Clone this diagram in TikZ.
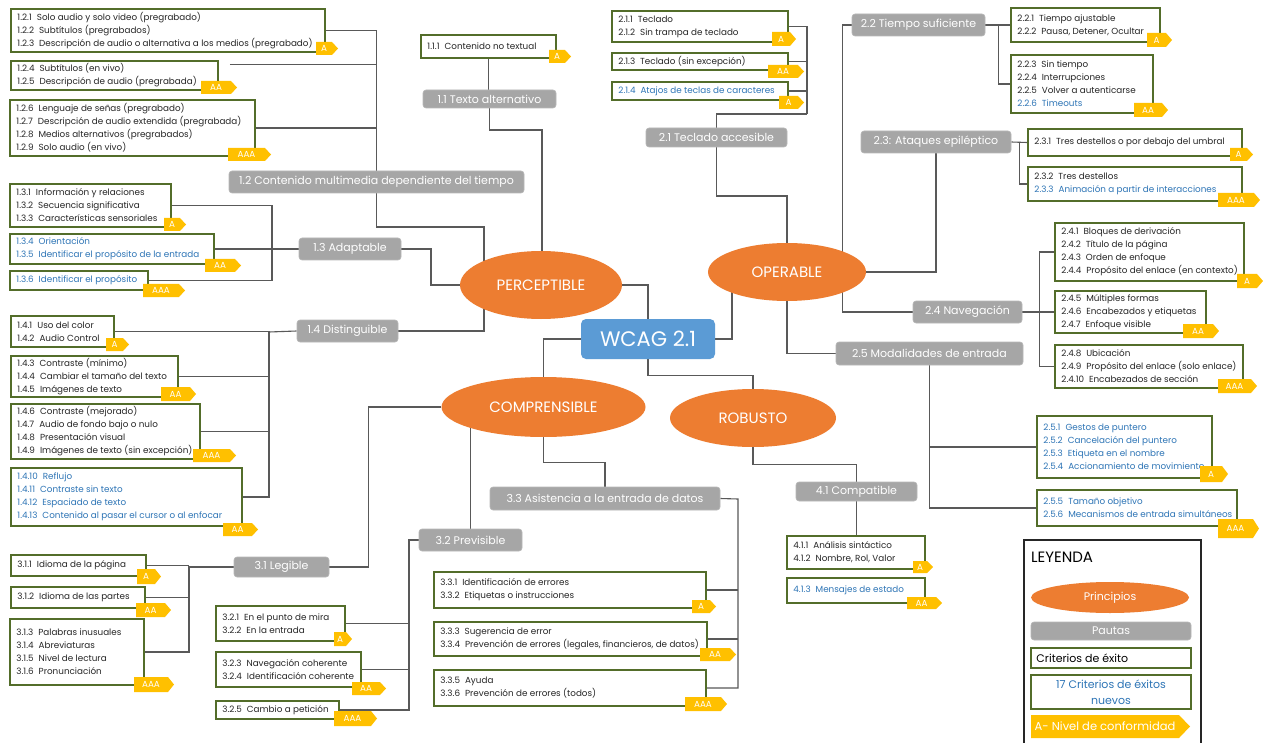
\documentclass[tikz,border=0pt]{standalone}
\usepackage{fontspec}
\setmainfont{Poppins}
\usetikzlibrary{shapes.geometric,calc}

\definecolor{orng}{HTML}{ED7D31}
\definecolor{wblue}{HTML}{5B9BD5}
\definecolor{gbox}{HTML}{A6A6A6}
\definecolor{olv}{HTML}{536D2A}
\definecolor{gold}{HTML}{FFC000}
\definecolor{newc}{HTML}{2E75B6}
\definecolor{ink}{HTML}{262626}
\definecolor{wirec}{HTML}{595959}

\pgfdeclarelayer{wires}
\pgfsetlayers{wires,main}

\tikzset{
  crit/.style={draw=olv, line width=1.5pt, fill=white, inner sep=0pt},
  crittext/.style={anchor=west, inner sep=0pt, align=left, text=ink,
    font=\fontsize{8.8}{13}\selectfont},
  guide/.style={fill=gbox, draw=gbox!80, line width=0.6pt, rounded corners=3pt,
    inner sep=0pt, text=white, font=\fontsize{11}{13}\selectfont},
  princ/.style={ellipse, fill=orng, inner sep=0pt, text=white,
    font=\fontsize{15}{18}\selectfont},
  badgetext/.style={inner sep=0pt, text=white, font=\fontsize{8.8}{10}\selectfont},
  wire/.style={draw=wirec, line width=1.1pt},
}

% success-criteria box: name, x1, y1, x2, y2, lines
\newcommand\mkcrit[6]{%
  \node[crit, minimum width={#4-#2}, minimum height={#5-#3}] (#1)
    at ({(#2+#4)/2},{(#3+#5)/2}) {};
  \node[crittext] (#1t) at ([xshift=7pt]#1.west) {#6};}
% conformance-level tag: name, x1, y1, x2, y2, level
\newcommand\mkbadge[6]{%
  \fill[gold] (#2,#3) -- ({#4-6},#3) -- (#4,{(#3+#5)/2}) -- ({#4-6},#5) -- (#2,#5) -- cycle;
  \node[badgetext] (#1) at ({(#2+#4-6)/2},{(#3+#5)/2}) {#6};}
% guideline label: name, x1, y1, x2, y2, text
\newcommand\mkguide[6]{%
  \node[guide, minimum width={#4-#2}, minimum height={#5-#3}] (#1)
    at ({(#2+#4)/2},{(#3+#5)/2}) {#6};}
% principle ellipse: name, cx, cy, rx, ry, text
\newcommand\mkprinc[6]{%
  \node[princ, minimum width={2*#4}, minimum height={2*#5}] (#1) at (#2,#3) {#6};}
\newcommand\nw[1]{\textcolor{newc}{#1}}
\newcommand\gap{\hspace{5pt}}

\begin{document}
\begin{tikzpicture}[x=1pt,y=-1pt]
\useasboundingbox (0,0) rectangle (1263,743);
\begin{pgfonlayer}{wires}
  \fill[white] (0,0) rectangle (1263,743);
\end{pgfonlayer}

% ---------------- PERCEPTIBLE ----------------
\mkcrit{b121}{11}{9}{325}{52}{1.2.1\gap Solo audio y solo video (pregrabado)\\1.2.2\gap Subtítulos (pregrabados)\\1.2.3\gap Descripción de audio o alternativa a los medios (pregrabado)}
\mkbadge{a121}{316}{42}{338}{55}{A}
\mkcrit{b124}{11}{61}{218}{90}{1.2.4\gap Subtítulos (en vivo)\\1.2.5\gap Descripción de audio (pregrabada)}
\mkbadge{a124}{201}{81}{237}{94}{AA}
\mkcrit{b126}{10}{100}{255}{156}{1.2.6\gap Lenguaje de señas (pregrabado)\\1.2.7\gap Descripción de audio extendida (pregrabada)\\1.2.8\gap Medios alternativos (pregrabados)\\1.2.9\gap Solo audio (en vivo)}
\mkbadge{a126}{228}{148}{271}{161}{AAA}
\mkcrit{b111}{421}{35}{556}{58}{1.1.1\gap Contenido no textual}
\mkbadge{a111}{549}{50}{571}{63}{A}
\mkguide{g11}{423}{90}{556}{108}{1.1 Texto alternativo}
\mkguide{g12}{229}{171}{524}{193}{1.2 Contenido multimedia dependiente del tiempo}

\mkcrit{b131}{10}{184}{171}{227}{1.3.1\gap Información y relaciones\\1.3.2\gap Secuencia significativa\\1.3.3\gap Características sensoriales}
\mkbadge{a131}{164}{218}{186}{231}{A}
\mkcrit{b134}{10}{234}{214}{264}{\nw{1.3.4\gap Orientación}\\\nw{1.3.5\gap Identificar el propósito de la entrada}}
\mkbadge{a134}{205}{259}{241}{272}{AA}
\mkcrit{b136}{10}{271}{148}{290}{\nw{1.3.6\gap Identificar el propósito}}
\mkbadge{a136}{143}{284}{185}{297}{AAA}
\mkguide{g13}{299}{238}{401}{260}{1.3 Adaptable}

\mkcrit{b141}{11}{316}{114}{347}{1.4.1\gap Uso del color\\1.4.2\gap Audio Control}
\mkbadge{a141}{106}{338}{129}{351}{A}
\mkcrit{b143}{11}{356}{178}{397}{1.4.3\gap Contraste (mínimo)\\1.4.4\gap Cambiar el tamaño del texto\\1.4.5\gap Imágenes de texto}
\mkbadge{a143}{161}{387}{196}{401}{AA}
\mkcrit{b146}{11}{404}{200}{459}{1.4.6\gap Contraste (mejorado)\\1.4.7\gap Audio de fondo bajo o nulo\\1.4.8\gap Presentación visual\\1.4.9\gap Imágenes de texto (sin excepción)}
\mkbadge{a146}{193}{449}{236}{462}{AAA}
\mkcrit{b1410}{11}{468}{242}{526}{\nw{1.4.10\gap Reflujo}\\\nw{1.4.11\gap Contraste sin texto}\\\nw{1.4.12\gap Espaciado de texto}\\\nw{1.4.13\gap Contenido al pasar el cursor o al enfocar}}
\mkbadge{a1410}{223}{523}{258}{536}{AA}
\mkguide{g14}{297}{320}{398}{342}{1.4 Distinguible}

\mkprinc{pe}{541}{285}{81}{34}{PERCEPTIBLE}

% ---------------- centre ----------------
\node[fill=wblue, rounded corners=5pt, minimum width=134, minimum height=40,
  inner sep=0pt, text=white, font=\fontsize{21}{24}\selectfont] (wc) at (648,339) {WCAG 2.1};
\mkprinc{op}{787}{272}{79}{29}{OPERABLE}
\mkprinc{co}{543.5}{407}{102}{30}{COMPRENSIBLE}
\mkprinc{ro}{753}{418}{83}{29}{ROBUSTO}

% ---------------- OPERABLE ----------------
\mkcrit{b211}{612}{11}{788}{42}{2.1.1\gap Teclado\\2.1.2\gap Sin trampa de teclado}
\mkbadge{a211}{772}{32}{796}{46}{A}
\mkcrit{b213}{612}{53}{788}{70}{2.1.3\gap Teclado (sin excepción)}
\mkbadge{a213}{768}{65}{804}{78}{AA}
\mkcrit{b214}{612}{82}{788}{100}{\nw{2.1.4\gap Atajos de teclas de caracteres}}
\mkbadge{a214}{779}{96}{804}{109}{A}
\mkguide{g21}{646}{128}{787}{147}{2.1 Teclado accesible}

\mkguide{g22}{852}{14}{985}{36}{2.2 Tiempo suficiente}
\mkcrit{b221}{1011}{8}{1160}{42}{2.2.1\gap Tiempo ajustable\\2.2.2\gap Pausa, Detener, Ocultar}
\mkbadge{a221}{1147}{33}{1172}{47}{A}
\mkcrit{b223}{1011}{55}{1153}{113}{2.2.3\gap Sin tiempo\\2.2.4\gap Interrupciones\\2.2.5\gap Volver a autenticarse\\\nw{2.2.6\gap Timeouts}}
\mkbadge{a223}{1134}{103}{1168}{117}{AA}

\mkguide{g23}{861}{131}{1011}{153}{2.3: Ataques epiléptico}
\mkcrit{b231}{1028}{129}{1242}{156}{2.3.1\gap Tres destellos o por debajo del umbral}
\mkbadge{a231}{1230}{148}{1253}{161}{A}
\mkcrit{b232}{1028}{167}{1242}{201}{2.3.2\gap Tres destellos\\\nw{2.3.3\gap Animación a partir de interacciones}}
\mkbadge{a232}{1218}{193}{1260}{207}{AAA}

\mkguide{g24}{913}{301}{1022}{323}{2.4 Navegación}
\mkcrit{b241}{1055}{223}{1244}{281}{2.4.1\gap Bloques de derivación\\2.4.2\gap Título de la página\\2.4.3\gap Orden de enfoque\\2.4.4\gap Propósito del enlace (en contexto)}
\mkbadge{a241}{1237}{274}{1263}{288}{A}
\mkcrit{b245}{1055}{291}{1206}{333}{2.4.5\gap Múltiples formas\\2.4.6\gap Encabezados y etiquetas\\2.4.7\gap Enfoque visible}
\mkbadge{a245}{1183}{324}{1219}{338}{AA}
\mkcrit{b248}{1055}{345}{1243}{388}{2.4.8\gap Ubicación\\2.4.9\gap Propósito del enlace (solo enlace)\\2.4.10\gap Encabezados de sección}
\mkbadge{a248}{1218}{379}{1257}{393}{AAA}

\mkguide{g25}{836}{342}{1023}{365}{2.5 Modalidades de entrada}
\mkcrit{b251}{1037}{416}{1212}{478}{\nw{2.5.1\gap Gestos de puntero}\\\nw{2.5.2\gap Cancelación del puntero}\\\nw{2.5.3\gap Etiqueta en el nombre}\\\nw{2.5.4\gap Accionamiento de movimiento}}
\mkbadge{a251}{1200}{466}{1228}{482}{A}
\mkcrit{b255}{1037}{490}{1237}{526}{\nw{2.5.5\gap Tamaño objetivo}\\\nw{2.5.6\gap Mecanismos de entrada simultáneos}}
\mkbadge{a255}{1218}{519}{1259}{538}{AAA}

% ---------------- ROBUSTO ----------------
\mkguide{g41}{796}{482}{917}{501}{4.1 Compatible}
\mkcrit{b411}{787}{536}{925}{569}{4.1.1\gap Análisis sintáctico\\4.1.2\gap Nombre, Rol, Valor}
\mkbadge{a411}{913}{561}{933}{573}{A}
\mkcrit{b413}{787}{578}{925}{603}{\nw{4.1.3\gap Mensajes de estado}}
\mkbadge{a413}{907}{597}{942}{609}{AA}

% ---------------- COMPRENSIBLE ----------------
\mkguide{g31}{234}{557}{329}{577}{3.1 Legible}
\mkcrit{b311}{11}{555}{146}{576}{3.1.1\gap Idioma de la página}
\mkbadge{a311}{137}{569}{161}{584}{A}
\mkcrit{b312}{11}{587}{145}{608}{3.1.2\gap Idioma de las partes}
\mkbadge{a312}{136}{603}{171}{617}{AA}
\mkcrit{b313}{10}{619}{144}{685}{3.1.3\gap Palabras inusuales\\3.1.4\gap Abreviaturas\\3.1.5\gap Nivel de lectura\\3.1.6\gap Pronunciación}
\mkbadge{a313}{134}{677}{174}{692}{AAA}

\mkguide{g32}{419}{529}{522}{551}{3.2 Previsible}
\mkcrit{b321}{216}{606}{345}{641}{3.2.1\gap En el punto de mira\\3.2.2\gap En la entrada}
\mkbadge{a321}{334}{632}{352}{646}{A}
\mkcrit{b323}{216}{652}{361}{687}{3.2.3\gap Navegación coherente\\3.2.4\gap Identificación coherente}
\mkbadge{a323}{352}{682}{386}{695}{AA}
\mkcrit{b325}{216}{701}{339}{719}{3.2.5\gap Cambio a petición}
\mkbadge{a325}{334}{711}{377}{726}{AAA}

\mkguide{g33}{490}{487}{720}{510}{3.3 Asistencia a la entrada de datos}
\mkcrit{b331}{434}{572}{706}{608}{3.3.1\gap Identificación de errores\\3.3.2\gap Etiquetas o instrucciones}
\mkbadge{a331}{692}{600}{716}{613}{A}
\mkcrit{b333}{434}{622}{707}{656}{3.3.3\gap Sugerencia de error\\3.3.4\gap Prevención de errores (legales, financieros, de datos)}
\mkbadge{a333}{700}{648}{736}{661}{AA}
\mkcrit{b335}{434}{670}{706}{706}{3.3.5\gap Ayuda\\3.3.6\gap Prevención de errores (todos)}
\mkbadge{a335}{685}{697}{727}{711}{AAA}

% ---------------- legend ----------------
\node[draw=ink, line width=1.5pt, fill=white, minimum width=177, minimum height=215,
  inner sep=0pt, anchor=north west] (leg) at (1023,539) {};
\node[anchor=west, inner sep=0pt, text=black, font=\fontsize{15}{18}\selectfont] (legt) at (1031,557) {LEYENDA};
\node[princ, minimum width=158, minimum height=31, font=\fontsize{11}{13}\selectfont] (legp) at (1110,597.5) {Principios};
\mkguide{legg}{1031}{622}{1191}{640}{Pautas}
\node[crit, minimum width=160, minimum height=20] (legc) at (1111,658) {};
\node[anchor=west, inner sep=0pt, text=black, font=\fontsize{11}{13}\selectfont] (legct) at ([xshift=6pt]legc.west) {Criterios de éxito};
\node[crit, minimum width=160, minimum height=34, align=center, text=newc,
  font=\fontsize{11}{16}\selectfont] (legn) at (1111,692) {17 Criterios de éxitos\\nuevos};
\fill[gold] (1031,715) -- (1179,715) -- (1190,726.5) -- (1179,738) -- (1031,738) -- cycle;
\node[inner sep=0pt, text=white, font=\fontsize{11.5}{13}\selectfont] (legb) at (1105,726.5) {A- Nivel de conformidad};

% ---------------- connectors ----------------
\begin{pgfonlayer}{wires}
\begin{scope}[wire]
  % 1.1
  \draw (b111.south) -- (b111.south |- g11.north);
  \coordinate (k11) at (542,130);
  \draw (g11.south) |- (k11) -- (k11 |- pe.center);
  % 1.2
  \draw (b121.east) -| (g12.north);
  \draw ([shift={(11,4)}]b124.north east) -| (g12.north);
  \draw (b126.east) -| (g12.north);
  \coordinate (k12) at (484,227);
  \draw (g12.south) |- (k12) -- (k12 |- pe.center);
  % 1.3
  \coordinate (j13) at (272,249);
  \draw (b131.east) -| (j13);
  \draw (b134.east) -- (j13);
  \draw (b136.east) -| (j13);
  \draw (j13) -- (g13.west);
  \coordinate (k13) at (431,285);
  \draw (g13.east) -| (k13) -- (pe.center);
  % 1.4
  \coordinate (j14) at (269,332);
  \draw (b141.east) -| (j14);
  \draw (b143.east) -| (j14);
  \draw (b146.east) -| (j14);
  \draw (b1410.east) -| (j14);
  \draw (j14) -- (g14.west);
  \draw (g14.east) -| (k12 |- pe.center);
  % principles to the centre
  \draw (pe.east) -| (wc.north);
  \draw (wc.west) -| (co.north);
  \coordinate (k0) at (732,272);
  \draw (wc.east) -| (k0);
  \draw (wc.south) -- ++(0,16) -| (ro.north);
  % 2.1
  \coordinate (j21) at (807,114);
  \draw (b211.east) -| (j21);
  \draw (b213.east) -| (j21);
  \draw (b214.east) -| (j21);
  \draw (j21) -| (g21.north);
  \coordinate (k21) at (787,196);
  \draw (g21.south) |- (k21) -- (op.center);
  % 2.2 and 2.4 trunk
  \draw (g22.west) -- ++(-9,0) |- (g24.west);
  \draw (g22.east) -- (b221.west);
  \draw (g22.east) ++(13,0) |- (b223.west);
  % 2.3
  \draw (op.east) -| (g23.south);
  \draw (g23.east) -- (b231.west);
  \draw (g23.east) ++(8,0) |- (b232.west);
  % 2.4
  \draw (g24.east) -- (b245.west);
  \draw (g24.east) ++(17,0) |- (b241.west);
  \draw (g24.east) ++(17,0) |- (b248.west);
  % 2.5
  \draw (op.south) |- (g25.west);
  \draw (g25.south) |- (b251.west);
  \draw (g25.south) |- (b255.west);
  % 3.1
  \draw (co.west) -- ++(-73,0) |- (g31.east);
  \coordinate (j31) at (189,567);
  \draw (g31.west) -- (j31) |- (b313.east);
  \draw (b311.east) -- (b311.east -| j31);
  \draw (b312.east) -- (b312.east -| j31);
  % 3.2
  \draw (co.center -| g32.north) -- (g32.north);
  \coordinate (j32) at (409,540);
  \draw (g32.west) -- (j32) |- (b325.east);
  \draw (b321.east) -- (b321.east -| j32);
  \draw (b323.east) -- (b323.east -| j32);
  % 3.3
  \draw (co.south) -- ++(0,25) -| (g33.north);
  \coordinate (j33) at (738,499);
  \draw (g33.east) -- (j33) |- (b335.east);
  \draw (b331.east) -- (b331.east -| j33);
  \draw (b333.east) -- (b333.east -| j33);
  % 4.1
  \draw (ro.south) -- ++(0,17) -| (g41.north);
  \draw (g41.south) -- (g41.south |- b411.north);
\end{scope}
\end{pgfonlayer}
\end{tikzpicture}
\end{document}
